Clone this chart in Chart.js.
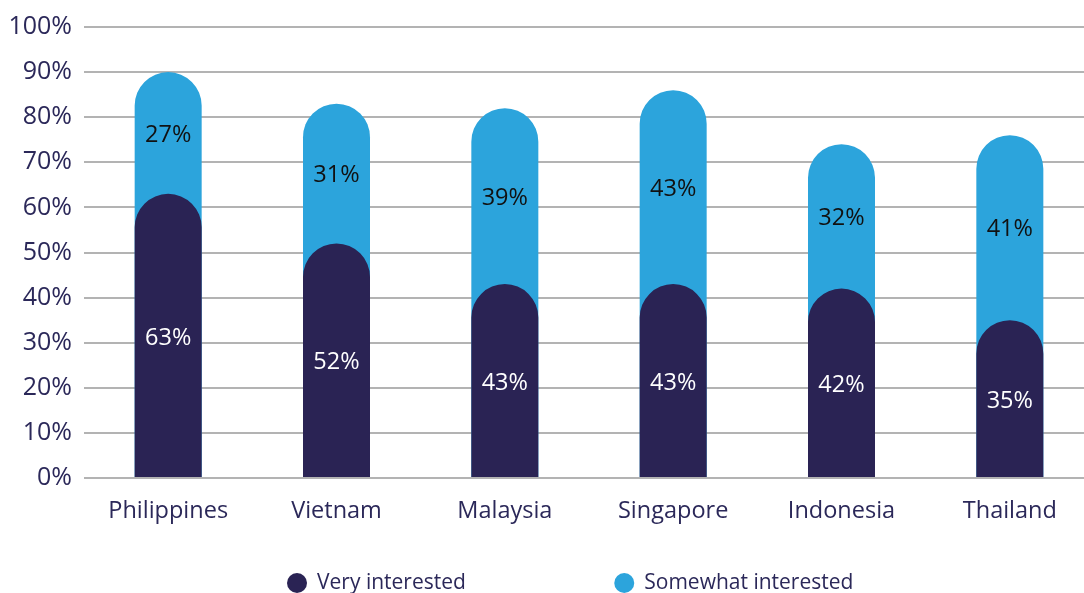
<!DOCTYPE html>
<html>
<head>
<meta charset="utf-8">
<script src="https://cdn.jsdelivr.net/npm/chart.js@4"></script>
<style>
  html, body { margin: 0; padding: 0; background: #fff; overflow: hidden; }
  .chart-container { position: relative; width: 1094px; height: 593px; }
</style>
</head>
<body>
<div class="chart-container">
  <canvas id="interestChart"></canvas>
</div>
<script>
const countries = ['Philippines', 'Vietnam', 'Malaysia', 'Singapore', 'Indonesia', 'Thailand'];
const veryInterested = [63, 52, 43, 43, 42, 35];
const somewhatInterested = [27, 31, 39, 43, 32, 41];
const seriesNames = ['Very interested', 'Somewhat interested'];
const yTicks = [0, 10, 20, 30, 40, 50, 60, 70, 80, 90, 100];

const NAVY = '#2a2354';
const BLUE = '#2ca4dc';
const TEXT = '#2b2859';

// light bar runs the full height (very + somewhat), dark bar is laid over it
const totals = veryInterested.map((v, i) => v + somewhatInterested[i]);

const valueLabels = {
  id: 'valueLabels',
  afterDatasetsDraw(chart) {
    const ctx = chart.ctx;
    const y = chart.scales.y;
    const meta = chart.getDatasetMeta(0);
    ctx.save();
    ctx.font = '23.5px "Open Sans"';
    ctx.textAlign = 'center';
    ctx.textBaseline = 'middle';
    meta.data.forEach((bar, i) => {
      const v = veryInterested[i];
      const s = somewhatInterested[i];
      ctx.fillStyle = '#ffffff';
      ctx.fillText(v + '%', bar.x, y.getPixelForValue(v / 2) + 2);
      ctx.fillStyle = '#111111';
      ctx.fillText(s + '%', bar.x, y.getPixelForValue(v + s / 2) + 2);
    });
    ctx.restore();
  }
};

const dotLegend = {
  id: 'dotLegend',
  afterDraw(chart) {
    const ctx = chart.ctx;
    const area = chart.chartArea;
    const starts = [0.201, 0.525];
    const cy = 582;
    ctx.save();
    ctx.font = '21px "Open Sans"';
    ctx.textBaseline = 'middle';
    ctx.textAlign = 'left';
    chart.data.datasets.forEach((ds, i) => {
      const x0 = area.left + starts[i] * (area.right - area.left);
      ctx.fillStyle = ds.backgroundColor;
      ctx.beginPath();
      ctx.arc(x0 + 10, cy + 1, 10, 0, Math.PI * 2);
      ctx.fill();
      ctx.fillStyle = TEXT;
      ctx.fillText(ds.label, x0 + 30, cy + 1);
    });
    ctx.restore();
  }
};

new Chart(document.getElementById('interestChart'), {
  type: 'bar',
  data: {
    labels: countries,
    datasets: [
      {
        label: seriesNames[0],
        data: veryInterested,
        backgroundColor: NAVY,
        borderRadius: { topLeft: 40, topRight: 40 },
        borderSkipped: 'bottom',
        barPercentage: 0.5,
        categoryPercentage: 0.796
      },
      {
        label: seriesNames[1],
        data: totals,
        backgroundColor: BLUE,
        borderRadius: { topLeft: 40, topRight: 40 },
        borderSkipped: 'bottom',
        barPercentage: 0.5,
        categoryPercentage: 0.796
      }
    ]
  },
  options: {
    responsive: true,
    maintainAspectRatio: false,
    animation: false,
    layout: { padding: { top: 25, left: 0, right: 0, bottom: 0 } },
    plugins: {
      legend: { display: false },
      tooltip: { enabled: false }
    },
    scales: {
      x: {
        stacked: true,
        grid: { display: false },
        border: { display: false },
        ticks: {
          color: TEXT,
          font: { family: 'Open Sans', size: 23.5 },
          padding: 11
        },
        afterFit(scale) { scale.height = 115; }
      },
      y: {
        stacked: false,
        min: 0,
        max: 100,
        afterBuildTicks(scale) { scale.ticks = yTicks.map(v => ({ value: v })); },
        grid: { color: '#b3b3b3', lineWidth: 2, drawTicks: false },
        border: { display: false },
        ticks: {
          color: TEXT,
          font: { family: 'Open Sans', size: 25 },
          padding: 12,
          callback: v => v + '%'
        },
        afterFit(scale) { scale.width = 84; }
      }
    }
  },
  plugins: [valueLabels, dotLegend]
});
</script>
</body>
</html>
